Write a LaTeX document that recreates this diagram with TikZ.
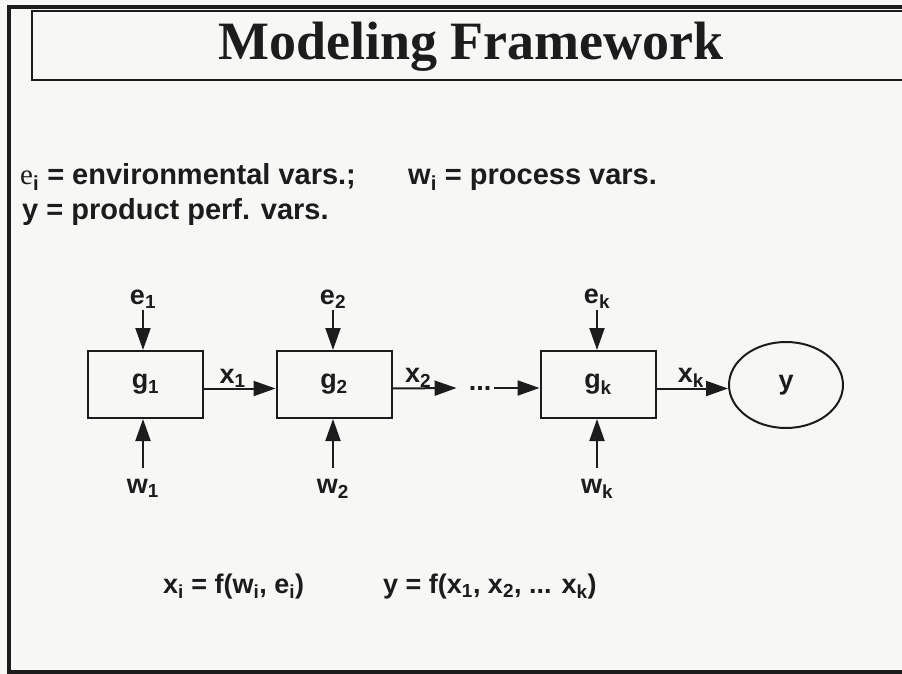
\documentclass[tikz,border=0pt]{standalone}
\usepackage{fontspec}
\setmainfont{Liberation Sans}
\newfontfamily\serif{Liberation Serif}
\usetikzlibrary{arrows.meta,shapes.geometric}
\definecolor{bg}{HTML}{F7F7F5}
\definecolor{ink}{HTML}{1C1C1C}
\begin{document}
\begin{tikzpicture}[x=1pt,y=-1pt,
  lbl/.style={font=\fontsize{27}{30}\selectfont\bfseries, text=ink, inner sep=1pt},
  legend/.style={font=\fontsize{29}{32}\selectfont\bfseries, text=ink, inner sep=0pt, anchor=base west},
  formula/.style={font=\fontsize{27}{30}\selectfont\bfseries, text=ink, inner sep=0pt, anchor=base west},
  blk/.style={draw=ink, line width=2pt, minimum width=115pt, minimum height=67pt, inner sep=0pt,
    font=\fontsize{27}{30}\selectfont\bfseries, text=ink},
  outnode/.style={ellipse, draw=ink, line width=2pt, minimum width=114pt, minimum height=86pt, inner sep=0pt,
    font=\fontsize{27}{30}\selectfont\bfseries, text=ink},
  arr/.style={draw=ink, line width=2pt, -{Triangle[length=22pt,width=15pt]}},
]
\useasboundingbox (0,0) rectangle (902,674);
\fill[bg] (0,0) rectangle (902,674);
% frames
\draw[ink, line width=3.5pt] (912,7) -- (9,7) -- (9,672) -- (912,672);
\draw[ink, line width=2pt] (912,11) -- (32,11) -- (32,80) -- (912,80);
\node[text=ink, inner sep=0pt] (title) at (471,47) {\serif\bfseries\fontsize{54}{60}\selectfont Modeling Framework};
% legend
\node[legend] (legA) at (20,184) {{\serif\mdseries e}\textsubscript{i} = environmental vars.;};
\node[legend] (legB) at (408,184) {w\textsubscript{i} = process vars.};
\node[legend] (legC) at (22,219) {y = product perf. vars.};
% blocks
\node[blk] (g1) at (145.5,384.5) {g\textsubscript{1}};
\node[blk] (g2) at (334,384.5) {g\textsubscript{2}};
\node[blk] (gk) at (598,384.5) {g\textsubscript{k}};
\node[outnode] (y) at (786,385) {y};
\node[lbl, inner sep=0pt] (dots) at (480,388) {...};
% inputs
\node[lbl, anchor=south] (e1) at (143,310) {e\textsubscript{1}};
\node[lbl, anchor=south] (e2) at (333,310) {e\textsubscript{2}};
\node[lbl, anchor=south] (ek) at (597,310) {e\textsubscript{k}};
\node[lbl, anchor=north] (w1) at (143,478) {w\textsubscript{1}};
\node[lbl, anchor=north] (w2) at (333,478) {w\textsubscript{2}};
\node[lbl, anchor=north] (wk) at (597,478) {w\textsubscript{k}};
\draw[arr] (e1.south) -- (e1.south |- g1.north);
\draw[arr] (e2.south) -- (e2.south |- g2.north);
\draw[arr] (ek.south) -- (ek.south |- gk.north);
\draw[arr, shorten <=10pt] (w1.north) -- (w1.north |- g1.south);
\draw[arr, shorten <=10pt] (w2.north) -- (w2.north |- g2.south);
\draw[arr, shorten <=10pt] (wk.north) -- (wk.north |- gk.south);
% chain
\draw[arr] ([yshift=-4pt]g1.east) -- node[lbl, above, inner sep=0pt, pos=0.4] (x1) {x\textsubscript{1}} ([yshift=-4pt]g1.east -| g2.west);
\draw[arr] ([yshift=-4pt]g2.east) -- node[lbl, above, inner sep=0pt, pos=0.4] (x2) {x\textsubscript{2}} ([xshift=-12pt]dots.west);
\draw[arr] ([xshift=3pt]dots.east) -- (dots.east -| gk.west);
\draw[arr] ([yshift=-4pt]gk.east) -- node[lbl, above, inner sep=0pt, pos=0.48] (xk) {x\textsubscript{k}} ([yshift=-4pt]gk.east -| y.west);
% formulas
\node[formula] (fA) at (163,593) {x\textsubscript{i} = f(w\textsubscript{i}, e\textsubscript{i})};
\node[formula] (fB) at (383,593) {y = f(x\textsubscript{1}, x\textsubscript{2}, ... x\textsubscript{k})};
\end{tikzpicture}
\end{document}
